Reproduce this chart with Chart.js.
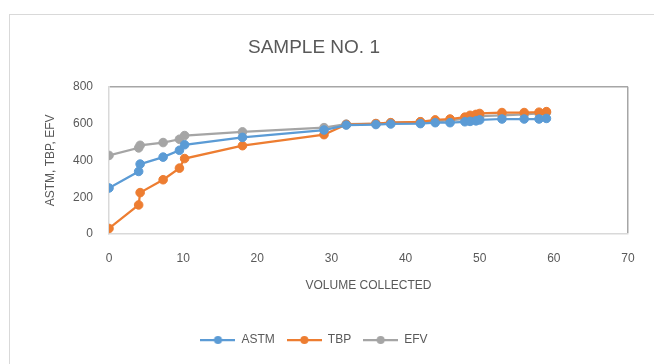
<!DOCTYPE html>
<html>
<head>
<meta charset="utf-8">
<script src="https://cdn.jsdelivr.net/npm/chart.js@4/dist/chart.umd.min.js"></script>
<style>
  html, body { margin: 0; padding: 0; background: #fff; overflow: hidden; }
  #frame { position: absolute; left: 9px; top: 14px; width: 700px; height: 400px; border: 1px solid #d9d9d9; }
  #wrap { position: absolute; left: 0; top: 0; width: 654px; height: 364px; }
</style>
</head>
<body>
<div id="frame"></div>
<div id="wrap"><canvas id="chart" width="654" height="364"></canvas></div>
<script>
// ---- Data ----
const volume = [0, 4, 4.2, 7.3, 9.5, 10.2, 18, 29, 32, 36, 38, 42, 44, 46, 48, 48.7, 49.5, 50, 53, 56, 58, 59];
const astm = [250, 340, 380, 418, 455, 485, 525, 565, 592, 595, 598, 600, 605, 605, 610, 612, 615, 620, 625, 625, 625, 628];
const tbp  = [30, 158, 225, 295, 358, 410, 480, 540, 595, 600, 605, 610, 620, 625, 635, 645, 650, 655, 660, 660, 662, 665];
const efv  = [427, 468, 482, 497, 515, 535, 555, 578, 597, 600, 605, 610, 612, 618, 625, 630, 635, 640, 645, 650, 655, 660];
const xTicks = [0, 10, 20, 30, 40, 50, 60, 70];
const yTicks = [0, 200, 400, 600, 800];

const FONT = "'Liberation Sans', Arial, sans-serif";
const TEXT = '#595959';

function points(ys) {
  return volume.map((x, i) => ({ x: x, y: ys[i] }));
}

// legend symbol: short line with a dot in the middle
function legendIcon(color) {
  const c = document.createElement('canvas');
  c.width = 35; c.height = 10;
  const g = c.getContext('2d');
  g.strokeStyle = color;
  g.lineWidth = 2.25;
  g.beginPath(); g.moveTo(0, 5); g.lineTo(35, 5); g.stroke();
  g.fillStyle = color;
  g.beginPath(); g.arc(17.5, 5, 4, 0, Math.PI * 2); g.fill();
  return c;
}

function series(label, ys, color) {
  return {
    label: label,
    data: points(ys),
    borderColor: color,
    backgroundColor: color,
    borderWidth: 2.25,
    pointRadius: 4.3,
    pointBorderWidth: 1,
    pointBorderColor: color,
    pointBackgroundColor: color,
    showLine: true,
    tension: 0,
    icon: legendIcon(color),
  };
}

new Chart(document.getElementById('chart').getContext('2d'), {
  type: 'scatter',
  data: {
    datasets: [
      series('ASTM', astm, '#5B9BD5'),
      series('TBP', tbp, '#ED7D31'),
      series('EFV', efv, '#A5A5A5'),
    ],
  },
  options: {
    responsive: false,
    animation: false,
    layout: { padding: { left: 0, right: 26, top: 0, bottom: 8 } },
    plugins: {
      tooltip: { enabled: false },
      title: {
        display: true,
        text: 'SAMPLE NO. 1',
        color: TEXT,
        font: { family: FONT, size: 19, weight: 'normal' },
        padding: { top: 36, bottom: 28 },
      },
      legend: {
        position: 'bottom',
        labels: {
          color: TEXT,
          font: { family: FONT, size: 12 },
          usePointStyle: true,
          pointStyleWidth: 35,
          boxHeight: 10,
          padding: 12,
          generateLabels: (chart) => chart.data.datasets.map((ds, i) => ({
            text: ds.label,
            pointStyle: ds.icon,
            fillStyle: ds.borderColor,
            strokeStyle: ds.borderColor,
            lineWidth: 0,
            fontColor: TEXT,
            datasetIndex: i,
            hidden: false,
          })),
        },
      },
    },
    scales: {
      x: {
        type: 'linear',
        min: 0,
        max: 70,
        afterBuildTicks: (s) => { s.ticks = xTicks.map(v => ({ value: v })); },
        afterFit: (s) => { s.height = 88; },
        ticks: { color: TEXT, font: { family: FONT, size: 12 }, padding: 17 },
        grid: {
          drawTicks: false,
          color: (ctx) => ctx.tick && ctx.tick.value === 70 ? '#a6a6a6' : 'rgba(0,0,0,0)',
          lineWidth: 1.5,
        },
        border: { color: '#d9d9d9', width: 1.5 },
        title: {
          display: true,
          text: 'VOLUME COLLECTED',
          color: TEXT,
          font: { family: FONT, size: 12 },
          padding: { top: 0, bottom: 29 },
        },
      },
      y: {
        min: 0,
        max: 800,
        afterBuildTicks: (s) => { s.ticks = yTicks.map(v => ({ value: v })); },
        afterFit: (s) => { s.width = 109; },
        ticks: { color: TEXT, font: { family: FONT, size: 12 }, padding: 16 },
        grid: {
          drawTicks: false,
          color: (ctx) => ctx.tick && ctx.tick.value === 800 ? '#a6a6a6' : 'rgba(0,0,0,0)',
          lineWidth: 1.5,
        },
        border: { color: '#d9d9d9', width: 1.5 },
        title: {
          display: true,
          text: 'ASTM, TBP, EFV',
          color: TEXT,
          font: { family: FONT, size: 12 },
          padding: { top: 43, bottom: 0 },
        },
      },
    },
  },
});
</script>
</body>
</html>
